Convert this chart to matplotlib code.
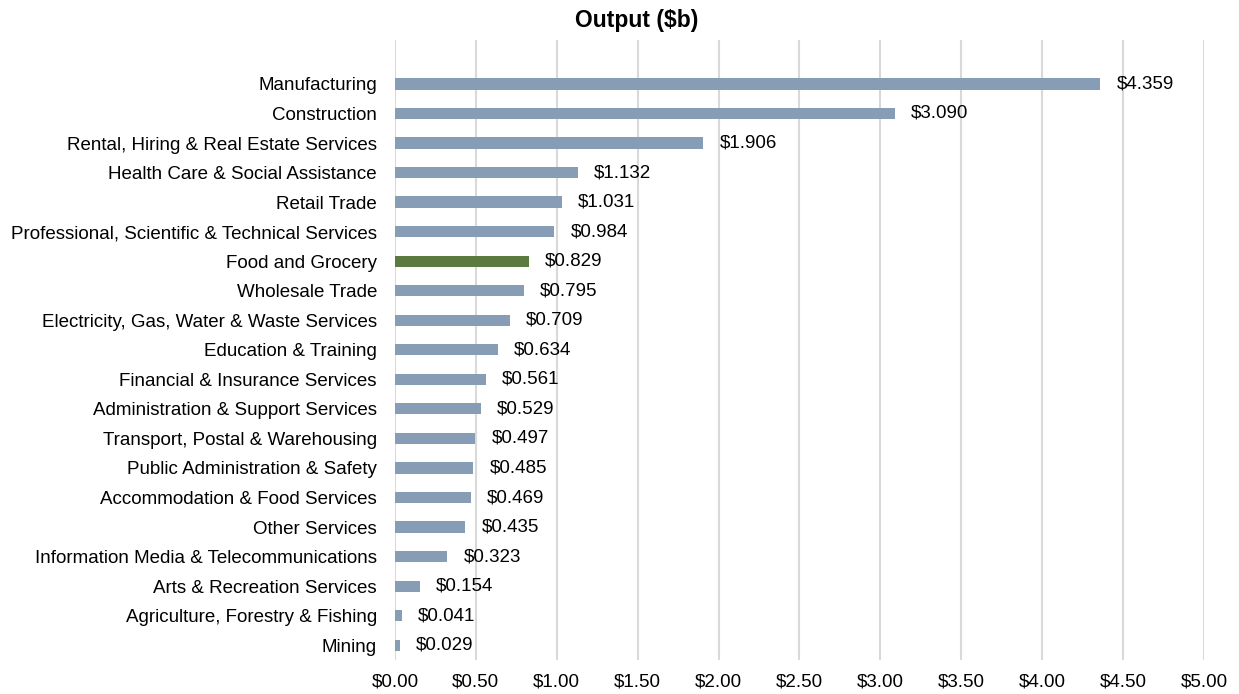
import numpy as np
import matplotlib
matplotlib.use('Agg')
import matplotlib.pyplot as plt
from matplotlib.ticker import FuncFormatter

plt.rcParams['font.family'] = ['Liberation Sans', 'DejaVu Sans']

# データ
industries = [
    'Manufacturing', 'Construction', 'Rental, Hiring & Real Estate Services',
    'Health Care & Social Assistance', 'Retail Trade',
    'Professional, Scientific & Technical Services', 'Food and Grocery',
    'Wholesale Trade', 'Electricity, Gas, Water & Waste Services',
    'Education & Training', 'Financial & Insurance Services',
    'Administration & Support Services', 'Transport, Postal & Warehousing',
    'Public Administration & Safety', 'Accommodation & Food Services',
    'Other Services', 'Information Media & Telecommunications',
    'Arts & Recreation Services', 'Agriculture, Forestry & Fishing', 'Mining',
]
output = [4.359, 3.090, 1.906, 1.132, 1.031, 0.984, 0.829, 0.795, 0.709, 0.634,
          0.561, 0.529, 0.497, 0.485, 0.469, 0.435, 0.323, 0.154, 0.041, 0.029]
highlight = 'Food and Grocery'

colors = ['#5A7A40' if n == highlight else '#879DB6' for n in industries]

fig = plt.figure(figsize=(12.39, 6.94), dpi=100)
ax = fig.add_axes([0.3188, 0.049, 0.6529, 0.8935])

y = np.arange(len(industries))
ax.barh(y, output, height=0.38, color=colors, zorder=3)

for yi, v in zip(y, output):
    ax.text(v + 0.1, yi, f'${v:.3f}', va='center', ha='left', fontsize=13.5, zorder=4)

ax.set_xlim(0, 5)
ax.set_ylim(19.5, -1.49)
ax.set_xticks(np.arange(0, 5.01, 0.5))
ax.xaxis.set_major_formatter(FuncFormatter(lambda x, p: f'${x:.2f}'))
ax.set_yticks(y)
ax.set_yticklabels(industries)
ax.tick_params(axis='both', length=0, labelsize=13.5)
ax.tick_params(axis='y', pad=13)
ax.tick_params(axis='x', pad=10)
ax.grid(axis='x', color='#D9D9D9', linewidth=1.5, zorder=0)
for s in ax.spines.values():
    s.set_visible(False)

fig.text(0.5135, 0.97, 'Output ($b)', ha='center', va='center', fontsize=16.5, fontweight='bold')

plt.savefig('out.png', dpi=100)
